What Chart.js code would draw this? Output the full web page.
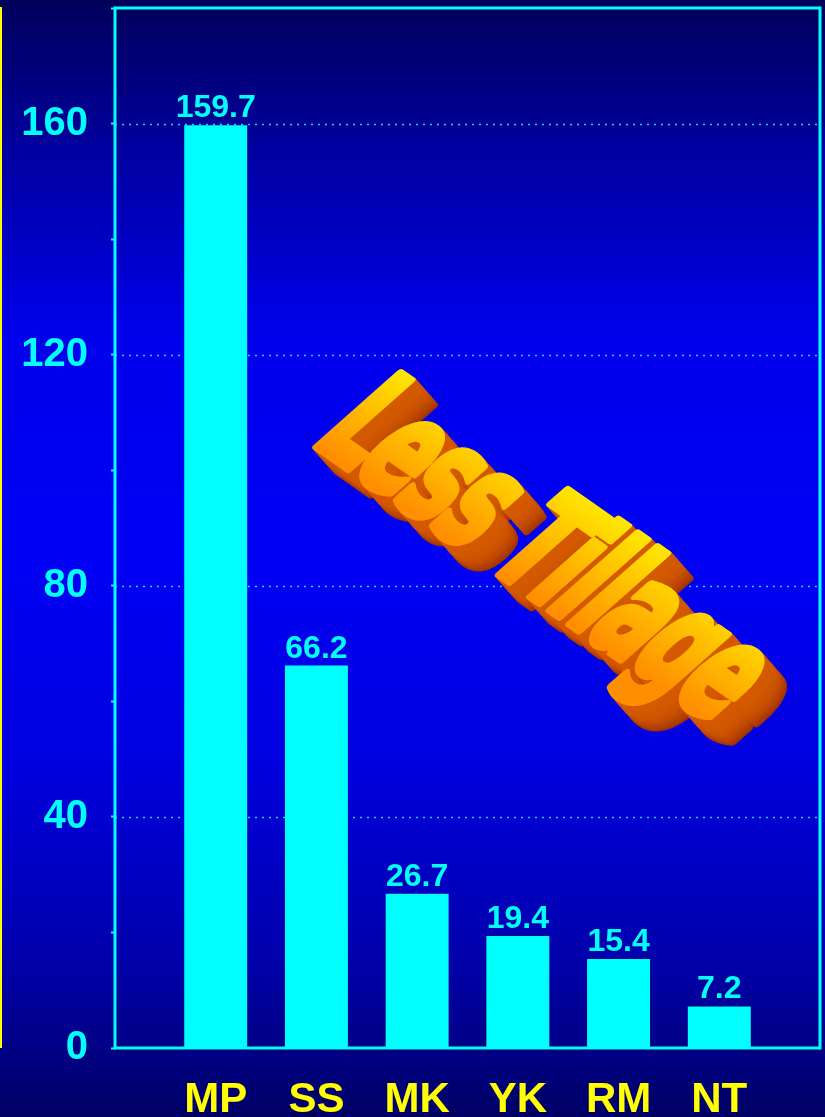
<!DOCTYPE html>
<html>
<head>
<meta charset="utf-8">
<script src="https://cdn.jsdelivr.net/npm/chart.js@4"></script>
<style>
  html, body { margin: 0; padding: 0; background: #000060; }
  canvas { display: block; }
</style>
</head>
<body>
<canvas id="tillage-chart" width="825" height="1117"></canvas>
<script>
const categories = ['MP', 'SS', 'MK', 'YK', 'RM', 'NT'];
const values = [159.7, 66.2, 26.7, 19.4, 15.4, 7.2];
const valueLabels = ['159.7', '66.2', '26.7', '19.4', '15.4', '7.2'];
const yTicks = [0, 40, 80, 120, 160];
const overlayText = 'Less Tillage';

const CYAN = '#00FFFF';
const YELLOW = '#FFFF00';

// background gradient, dotted grid, frame, yellow edge line
const backdrop = {
    id: 'backdrop',
    beforeDraw(chart) {
        const { ctx, width, height } = chart;
        const g = ctx.createLinearGradient(0, 0, 0, height);
        g.addColorStop(0, '#00005A');
        g.addColorStop(0.14, '#0000A2');
        g.addColorStop(0.3, '#0000EC');
        g.addColorStop(0.5, '#0000F4');
        g.addColorStop(0.68, '#0000E0');
        g.addColorStop(0.85, '#0000AE');
        g.addColorStop(0.94, '#000086');
        g.addColorStop(1, '#000064');
        ctx.save();
        ctx.fillStyle = g;
        ctx.fillRect(0, 0, width, height);
        ctx.restore();
    },
    beforeDatasetsDraw(chart) {
        const { ctx, chartArea: a, scales } = chart;
        ctx.save();
        ctx.strokeStyle = '#10D8FF';
        ctx.lineWidth = 1.5;
        ctx.setLineDash([2, 5]);
        yTicks.forEach(v => {
            if (v === 0) return;
            const y = Math.round(scales.y.getPixelForValue(v)) + 0.5;
            ctx.beginPath();
            ctx.moveTo(a.left, y);
            ctx.lineTo(a.right, y);
            ctx.stroke();
        });
        ctx.restore();
    },
    afterDraw(chart) {
        const { ctx, chartArea: a } = chart;
        ctx.save();
        ctx.strokeStyle = CYAN;
        ctx.lineWidth = 3;
        ctx.strokeRect(a.left, a.top, a.right - a.left, a.bottom - a.top);
        ctx.fillStyle = YELLOW;
        ctx.fillRect(0, a.top - 1, 2, a.bottom - a.top + 1);
        ctx.restore();
    }
};

// values on top of the bars
const barValues = {
    id: 'barValues',
    afterDatasetsDraw(chart) {
        const { ctx } = chart;
        const meta = chart.getDatasetMeta(0);
        ctx.save();
        ctx.fillStyle = CYAN;
        ctx.font = 'bold 32px "Liberation Sans", Arial, sans-serif';
        ctx.textAlign = 'center';
        ctx.textBaseline = 'alphabetic';
        meta.data.forEach((bar, i) => {
            ctx.fillText(valueLabels[i], bar.x, bar.y - 8);
        });
        ctx.restore();
    }
};

// the extruded "Less Tillage" word art
const wordArt = {
    id: 'wordArt',
    afterDatasetsDraw(chart) {
        const { ctx } = chart;
        const x0 = 310, y0 = 442;
        const angle = 35 * Math.PI / 180;
        const font = 'bold 160px "Liberation Sans Narrow", "DejaVu Sans Condensed", sans-serif';
        ctx.save();
        ctx.font = font;
        ctx.letterSpacing = '-6px';
        const sx = 488 / ctx.measureText(overlayText).width;
        ctx.restore();

        const face = (k, style) => {
            ctx.save();
            ctx.translate(x0 + k * 0.75, y0 + k * 0.85);
            ctx.rotate(angle);
            ctx.transform(1, 0, -0.24, 1, 0, 0);
            ctx.scale(sx, 0.93);
            ctx.font = font;
            ctx.letterSpacing = '-6px';
            ctx.textBaseline = 'alphabetic';
            ctx.textAlign = 'left';
            ctx.lineJoin = 'round';
            ctx.lineWidth = 9;
            ctx.fillStyle = style(ctx);
            ctx.strokeStyle = ctx.fillStyle;
            ctx.fillText(overlayText, 0, 0);
            ctx.strokeText(overlayText, 0, 0);
            ctx.restore();
        };

        const depth = 30;
        for (let k = depth; k > 0; k--) {
            const t = k / depth;
            const r = Math.round(212 - 50 * t * t * t);
            const gg = Math.round(90 - 40 * t * t * t);
            face(k, () => `rgb(${r},${gg},0)`);
        }
        face(0, c => {
            const g = c.createLinearGradient(0, -120, 0, 0);
            g.addColorStop(0, '#FFE600');
            g.addColorStop(1, '#FF8E00');
            return g;
        });
    }
};

const ctx = document.getElementById('tillage-chart').getContext('2d');
const tillageChart = new Chart(ctx, {
    type: 'bar',
    data: {
        datasets: [{
            data: values.map((v, i) => ({ x: i, y: v })),
            backgroundColor: CYAN,
            borderWidth: 0,
            barPercentage: 0.625,
            categoryPercentage: 1
        }]
    },
    options: {
        responsive: false,
        animation: false,
        layout: {
            padding: { top: 8, right: 5, left: 0, bottom: 0 }
        },
        plugins: {
            legend: { display: false },
            tooltip: { enabled: false }
        },
        scales: {
            x: {
                type: 'linear',
                min: -1,
                max: 6,
                offset: false,
                border: { display: false },
                grid: { display: false, drawTicks: false },
                ticks: {
                    stepSize: 1,
                    padding: 27,
                    color: YELLOW,
                    font: { family: '"Liberation Sans", Arial, sans-serif', size: 42, weight: 'bold' },
                    autoSkip: false,
                    maxRotation: 0,
                    callback: function(value) {
                        return categories[value] !== undefined ? categories[value] : '';
                    }
                },
                afterFit: function(scale) {
                    scale.height = 69;
                    scale.paddingLeft = 0;
                    scale.paddingRight = 0;
                }
            },
            y: {
                min: 0,
                max: 180,
                border: { display: false },
                grid: {
                    drawTicks: true,
                    tickLength: 4,
                    tickColor: CYAN,
                    tickWidth: 2,
                    color: 'rgba(0,0,0,0)'
                },
                ticks: {
                    stepSize: 20,
                    padding: 23,
                    color: CYAN,
                    font: { family: '"Liberation Sans", Arial, sans-serif', size: 40, weight: 'bold' },
                    callback: function(value) {
                        return yTicks.includes(value) ? String(value) : '';
                    }
                },
                afterFit: function(scale) {
                    scale.width = 115;
                    scale.paddingTop = 0;
                    scale.paddingBottom = 0;
                }
            }
        }
    },
    plugins: [backdrop, barValues, wordArt]
});
</script>
</body>
</html>
